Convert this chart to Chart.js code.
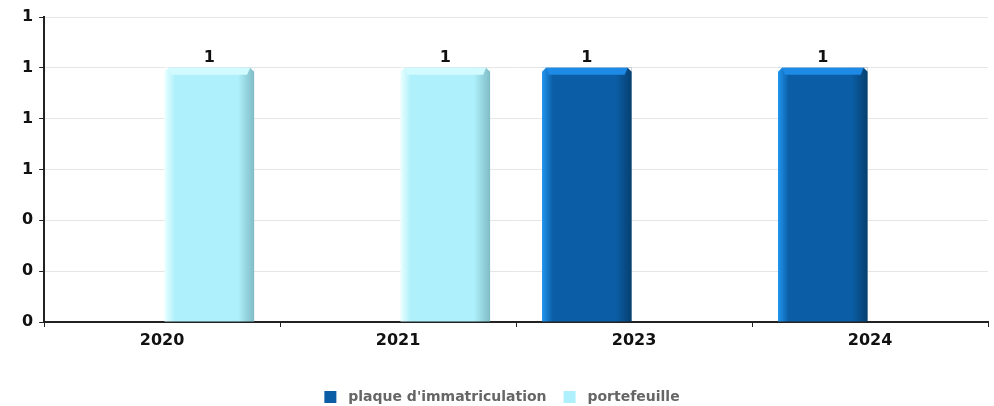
<!DOCTYPE html>
<html>
<head>
<meta charset="utf-8">
<script src="https://cdn.jsdelivr.net/npm/chart.js@4.4.1/dist/chart.umd.min.js"></script>
<style>
  html, body { margin: 0; padding: 0; background: #fff; }
  #wrap { width: 994px; height: 406px; position: relative; }
</style>
</head>
<body>
<div id="wrap"><canvas id="chart"></canvas></div>
<script>
// chart data
const years = ['2020', '2021', '2023', '2024'];
const plaqueValues = [null, null, 1, 1];
const portefeuilleValues = [1, 1, null, null];
const yTickStep = 0.2;
const yMax = 1.2;

const palette = {
    plaque: { light: '#2196f0', mid: '#0b5ea6', dark: '#06406f', top: '#1d8ae6' },
    portefeuille: { light: '#eaffff', mid: '#aef0fb', dark: '#7fbcc6', top: '#d2fbff' }
};
const tickFont = { family: 'DejaVu Sans', weight: 'bold', size: 16 };

function hasValue(chart, dsIndex, i) {
    return chart.data.datasets[dsIndex].data[i] != null;
}

// horizontal shading and bevelled top on every bar, from the element geometry
const barShading = {
    id: 'barShading',
    beforeDatasetDraw(chart, args) {
        const ctx = chart.ctx;
        const colors = palette[chart.data.datasets[args.index].key];
        args.meta.data.forEach((el, i) => {
            if (!hasValue(chart, args.index, i)) return;
            const left = el.x - el.width / 2;
            const g = ctx.createLinearGradient(left, 0, left + el.width, 0);
            g.addColorStop(0, colors.light);
            g.addColorStop(0.12, colors.mid);
            g.addColorStop(0.82, colors.mid);
            g.addColorStop(1, colors.dark);
            el.options = Object.assign({}, el.options, { backgroundColor: g });
        });
    },
    afterDatasetDraw(chart, args) {
        const ctx = chart.ctx;
        const colors = palette[chart.data.datasets[args.index].key];
        args.meta.data.forEach((el, i) => {
            if (!hasValue(chart, args.index, i)) return;
            const left = el.x - el.width / 2;
            const right = left + el.width;
            const bev = 7;
            ctx.save();
            // cut the top corners
            ctx.fillStyle = '#fff';
            ctx.beginPath();
            ctx.moveTo(left, el.y); ctx.lineTo(left + 4, el.y); ctx.lineTo(left, el.y + 4);
            ctx.closePath(); ctx.fill();
            ctx.beginPath();
            ctx.moveTo(right, el.y); ctx.lineTo(right - 4, el.y); ctx.lineTo(right, el.y + 4);
            ctx.closePath(); ctx.fill();
            // lighter top band
            ctx.fillStyle = colors.top;
            ctx.beginPath();
            ctx.moveTo(left + 4, el.y);
            ctx.lineTo(right - 4, el.y);
            ctx.lineTo(right - bev, el.y + bev);
            ctx.lineTo(left + bev, el.y + bev);
            ctx.closePath();
            ctx.fill();
            ctx.restore();
        });
    }
};

// value labels above the bars
const valueLabels = {
    id: 'valueLabels',
    afterDatasetsDraw(chart) {
        const ctx = chart.ctx;
        ctx.save();
        ctx.font = 'bold 16px "DejaVu Sans"';
        ctx.fillStyle = '#111';
        ctx.textAlign = 'center';
        ctx.textBaseline = 'bottom';
        chart.data.datasets.forEach((ds, i) => {
            chart.getDatasetMeta(i).data.forEach((el, j) => {
                if (ds.data[j] == null) return;
                ctx.fillText(String(ds.data[j]), el.x, el.y - 2);
            });
        });
        ctx.restore();
    }
};

new Chart(document.getElementById('chart'), {
    type: 'bar',
    data: {
        labels: years,
        datasets: [
            { key: 'plaque', label: "plaque d'immatriculation", data: plaqueValues, backgroundColor: palette.plaque.mid },
            { key: 'portefeuille', label: 'portefeuille', data: portefeuilleValues, backgroundColor: palette.portefeuille.mid }
        ]
    },
    options: {
        responsive: true,
        maintainAspectRatio: false,
        animation: false,
        categoryPercentage: 0.8,
        barPercentage: 0.95,
        layout: { padding: { top: 17, right: 6, left: 16, bottom: -8 } },
        plugins: {
            tooltip: { enabled: false },
            legend: {
                position: 'bottom',
                labels: {
                    boxWidth: 12,
                    boxHeight: 12,
                    padding: 17,
                    color: '#666',
                    font: { family: 'DejaVu Sans', weight: 'bold', size: 14 },
                    generateLabels: (chart) => Chart.defaults.plugins.legend.labels.generateLabels(chart)
                        .map((item) => Object.assign(item, { text: ' ' + item.text }))
                }
            }
        },
        scales: {
            y: {
                min: 0,
                max: yMax,
                ticks: {
                    stepSize: yTickStep,
                    color: '#111',
                    font: tickFont,
                    padding: 6,
                    callback: (v) => Number(v).toFixed(0)
                },
                grid: { color: '#e6e6e6', drawTicks: true, tickLength: 5, tickColor: '#222' },
                border: { color: '#222', width: 2 }
            },
            x: {
                ticks: { color: '#111', font: tickFont, padding: 4 },
                grid: { display: true, drawOnChartArea: false, tickLength: 5, tickColor: '#222', offset: true },
                border: { color: '#222', width: 2 },
                afterFit: (scale) => { scale.height = 51; }
            }
        }
    },
    plugins: [barShading, valueLabels]
});
</script>
</body>
</html>
